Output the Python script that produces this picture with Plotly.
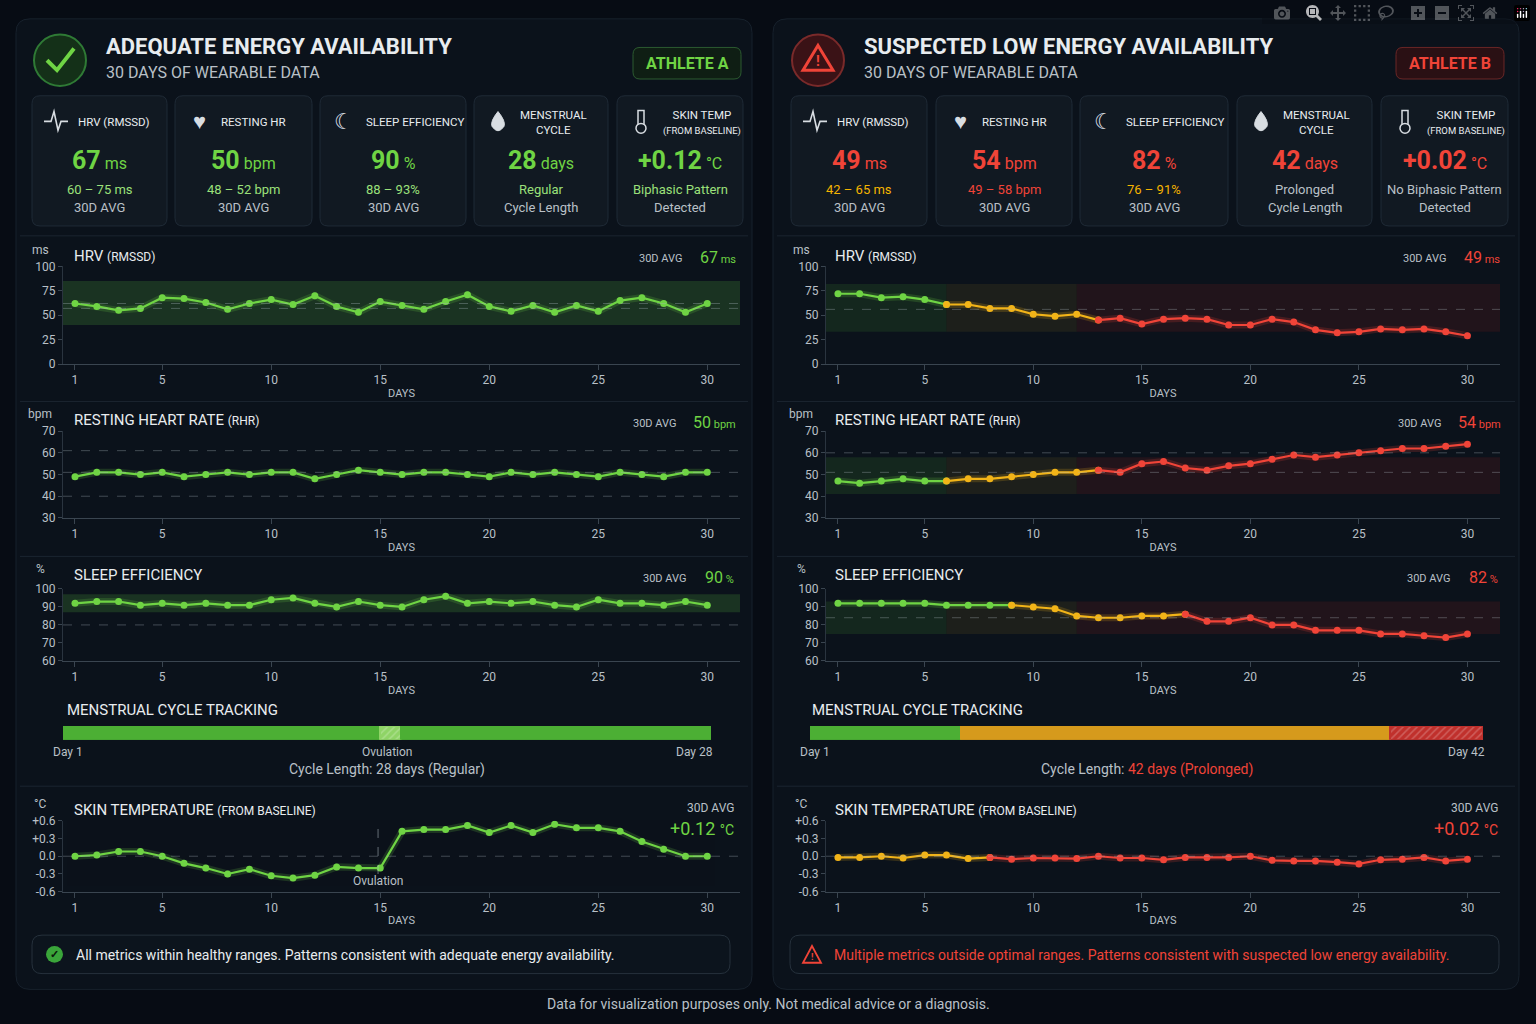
import plotly.graph_objects as go

W, H = 1536, 1024
FONT = "Roboto, 'Liberation Sans Narrow', sans-serif"

days = list(range(1, 31))
day_ticks = [1, 5, 10, 15, 20, 25, 30]

# athlete A (adequate)
a_hrv = [62, 59, 55, 57, 68, 67, 63, 56, 62, 66, 61, 70, 59, 53, 64, 60, 56, 64, 71, 59, 54, 60, 53, 60, 54, 65, 68, 62, 53, 62]
a_rhr = [49, 51, 51, 50, 51, 49, 50, 51, 50, 51, 51, 48, 50, 52, 51, 50, 51, 51, 50, 49, 51, 50, 51, 50, 49, 51, 50, 49, 51, 51]
a_sleep = [92, 93, 93, 91, 92, 91, 92, 91, 91, 94, 95, 92, 90, 93, 91, 90, 94, 96, 92, 93, 92, 93, 91, 90, 94, 92, 92, 91, 93, 91]
a_skin = [0.0, 0.02, 0.08, 0.08, 0.0, -0.12, -0.2, -0.3, -0.22, -0.33, -0.37, -0.32, -0.18, -0.2, -0.2,
          0.42, 0.45, 0.45, 0.52, 0.4, 0.52, 0.4, 0.54, 0.48, 0.48, 0.42, 0.25, 0.12, 0.0, 0.0]

# athlete B (suspected low EA)
b_hrv = [72, 72, 68, 69, 66, 61, 61, 57, 57, 51, 49, 51, 45, 47, 41, 46, 47, 46, 40, 40, 46, 43, 35, 32, 33, 36, 35, 36, 33, 29]
b_rhr = [47, 46, 47, 48, 47, 47, 48, 48, 49, 50, 51, 51, 52, 51, 55, 56, 53, 52, 54, 55, 57, 59, 58, 59, 60, 61, 62, 62, 63, 64]
b_sleep = [92, 92, 92, 92, 92, 91, 91, 91, 91, 90, 89, 85, 84, 84, 85, 85, 86, 82, 82, 84, 80, 80, 77, 77, 77, 75, 75, 74, 73, 75]
b_skin = [-0.02, -0.02, 0.0, -0.03, 0.02, 0.02, -0.04, -0.02, -0.05, -0.03, -0.03, -0.04, 0.0, -0.03, -0.03,
          -0.06, -0.02, -0.02, -0.02, 0.0, -0.07, -0.08, -0.08, -0.1, -0.13, -0.06, -0.05, -0.02, -0.08, -0.05]
# index where B series turns yellow / red
b_hrv_stages = [5, 12]
b_rhr_stages = [5, 12]
b_sleep_stages = [8, 16]
b_skin_stages = [0, 7]

# menstrual cycle segments (days)
a_cycle = [13.7, 0.9, 13.4]
b_cycle = [9.4, 26.8, 5.8]

GREEN = "#6fd444"
YELLOW = "#f2b418"
RED = "#f04438"
BG = "#070c14"
PANEL = "#0b121b"
CARD = "#111922"
BORDER = "#1f2a36"
TXT = "#e8ecef"
SUB = "#b9c0c7"


def px(x):
    return x / W


def py(y):
    return 1 - y / H


def rrect(x0, y0, x1, y1, r=8):
    return (f"M{px(x0 + r)},{py(y0)} L{px(x1 - r)},{py(y0)} Q{px(x1)},{py(y0)} {px(x1)},{py(y0 + r)} "
            f"L{px(x1)},{py(y1 - r)} Q{px(x1)},{py(y1)} {px(x1 - r)},{py(y1)} L{px(x0 + r)},{py(y1)} "
            f"Q{px(x0)},{py(y1)} {px(x0)},{py(y1 - r)} L{px(x0)},{py(y0 + r)} Q{px(x0)},{py(y0)} {px(x0 + r)},{py(y0)} Z")


fig = go.Figure()
shapes = []
ann = []


def box(x0, y0, x1, y1, fill=CARD, line=BORDER, r=8, width=1):
    shapes.append(dict(type="path", path=rrect(x0, y0, x1, y1, r), xref="paper", yref="paper",
                       fillcolor=fill, line=dict(color=line, width=width), layer="below"))


def text(x, y, s, size=14, color=TXT, anchor="left", yanchor="middle", bold=False):
    if bold:
        s = f"<b>{s}</b>"
    ann.append(dict(x=px(x), y=py(y), xref="paper", yref="paper", text=s, showarrow=False,
                    font=dict(family=FONT, size=size, color=color), xanchor=anchor, yanchor=yanchor))


# panels
box(16, 12, 752, 996, fill=PANEL, line="#17212c", r=14)
box(773, 12, 1519, 996, fill=PANEL, line="#17212c", r=14)

axis_id = [0]


def chart(x0, x1, y0, y1, yr, yt, ylab, series, colors, stages=None, band=None, band_cols=None,
          dashes=(), show_days=True):
    axis_id[0] += 1
    n = axis_id[0]
    xa = "x" if n == 1 else f"x{n}"
    ya = "y" if n == 1 else f"y{n}"
    lay_x = "xaxis" if n == 1 else f"xaxis{n}"
    lay_y = "yaxis" if n == 1 else f"yaxis{n}"
    fig.layout[lay_x] = dict(domain=[px(x0), px(x1)], anchor=ya, range=[0.45, 31.5], tickvals=day_ticks,
                             showgrid=False, zeroline=False, showline=True, linecolor="#3a4550",
                             ticks="outside", tickcolor="#3a4550", ticklen=5,
                             tickfont=dict(family=FONT, size=12, color=SUB),
                             title=dict(text="DAYS" if show_days else "", font=dict(family=FONT, size=11, color=SUB), standoff=2))
    fig.layout[lay_y] = dict(domain=[py(y1), py(y0)], anchor=xa, range=yr, tickvals=yt, ticktext=ylab,
                             showgrid=False, zeroline=False, showline=True, linecolor="#2a343f",
                             ticks="outside", tickcolor="#3a4550", ticklen=4,
                             tickfont=dict(family=FONT, size=12, color=SUB))
    if band is not None:
        if band_cols is None:
            shapes.append(dict(type="rect", xref=xa, yref=ya, x0=0.45, x1=31.5, y0=band[0], y1=band[1],
                               fillcolor="rgba(80,170,60,0.22)", line_width=0, layer="below"))
        else:
            for (bx0, bx1, c) in band_cols:
                shapes.append(dict(type="rect", xref=xa, yref=ya, x0=bx0, x1=bx1, y0=band[0], y1=band[1],
                                   fillcolor=c, line_width=0, layer="below"))
    for d in dashes:
        shapes.append(dict(type="line", xref=xa, yref=ya, x0=0.45, x1=31.5, y0=d, y1=d,
                           line=dict(color="rgba(170,180,190,0.35)", width=1, dash="dash")))
    if stages is None:
        segs = [(0, len(series) - 1, colors[0])]
    else:
        s1, s2 = stages
        segs = [(0, s1, colors[0]), (s1, s2, colors[1]), (s2, len(series) - 1, colors[2])]
    for (i0, i1, c) in segs:
        if i1 <= i0:
            continue
        xs = days[i0:i1 + 1]
        ys = series[i0:i1 + 1]
        fig.add_trace(go.Scatter(x=xs, y=ys, xaxis=xa, yaxis=ya, mode="lines",
                                 line=dict(color=c, width=7), opacity=0.18, hoverinfo="skip", showlegend=False))
        fig.add_trace(go.Scatter(x=xs, y=ys, xaxis=xa, yaxis=ya, mode="lines+markers",
                                 line=dict(color=c, width=2.2), marker=dict(size=7, color=c),
                                 showlegend=False))
    return xa, ya


def section(x0, x1, y0, unit, title, sub, avg_val, avg_unit, col, avg_below=False):
    text(x0 + 20, y0 + 8, unit, 12, SUB, "center")
    text(x0 + 52, y0 + 14, f"{title} <span style='font-size:12px'>{sub}</span>", 15, TXT)
    if avg_below:
        text(x1, y0 + 12, "30D AVG", 12, SUB, "right")
        text(x1, y0 + 33, f"{avg_val} <span style='font-size:14px'>{avg_unit}</span>", 18, col, "right")
    else:
        text(x1, y0 + 16, f"{avg_val}<span style='font-size:11px'> {avg_unit}</span>", 16, col, "right")
        text(x1 - 30 - 6 * len(str(avg_val)) - 6 * len(avg_unit), y0 + 17, "30D AVG", 11, SUB, "right")


def header(x0, x1, ok, title, athlete, col):
    if ok:
        shapes.append(dict(type="circle", xref="paper", yref="paper", x0=px(x0 + 2), x1=px(x0 + 54),
                           y0=py(80), y1=py(28), fillcolor="#143018", line=dict(color="#2f7a35", width=2)))
        shapes.append(dict(type="path", xref="paper", yref="paper",
                           path=f"M{px(x0 + 15)},{py(54)} L{px(x0 + 25)},{py(64)} L{px(x0 + 42)},{py(42)}",
                           line=dict(color=GREEN, width=4)))
    else:
        shapes.append(dict(type="circle", xref="paper", yref="paper", x0=px(x0 + 2), x1=px(x0 + 54),
                           y0=py(80), y1=py(28), fillcolor="#3a1216", line=dict(color="#7a2a2a", width=2)))
        shapes.append(dict(type="path", xref="paper", yref="paper",
                           path=f"M{px(x0 + 28)},{py(39)} L{px(x0 + 43)},{py(64)} L{px(x0 + 13)},{py(64)} Z",
                           line=dict(color=RED, width=3)))
        text(x0 + 28, 55, "!", 14, RED, "center", bold=True)
    text(x0 + 72, 40, title, 22, TXT, bold=True)
    text(x0 + 72, 66, "30 DAYS OF WEARABLE DATA", 16, SUB)
    box(x1 - 108, 41, x1, 73, fill="#0f1e14" if ok else "#2a1014", line="#2c5a30" if ok else "#6a2626", r=7)
    text(x1 - 54, 57, athlete, 16, col, "center", bold=True)


def cards(xs, vals, col, range_col):
    for (cx0, cx1), (lab, big, unit, l1, l2, icon) in zip(xs, vals):
        box(cx0, 90, cx1, 222)
        mid = (cx0 + cx1) / 2
        ix = cx0 + 24
        if icon == "pulse":
            shapes.append(dict(type="path", xref="paper", yref="paper",
                               path=f"M{px(ix - 12)},{py(116)} L{px(ix - 5)},{py(116)} L{px(ix - 2)},{py(106)} "
                                    f"L{px(ix + 2)},{py(125)} L{px(ix + 5)},{py(116)} L{px(ix + 12)},{py(116)}",
                               line=dict(color="#d8dde2", width=1.6)))
        elif icon == "therm":
            shapes.append(dict(type="rect", xref="paper", yref="paper", x0=px(ix - 3), x1=px(ix + 3),
                               y0=py(121), y1=py(105), line=dict(color="#d8dde2", width=1.5)))
            shapes.append(dict(type="circle", xref="paper", yref="paper", x0=px(ix - 5), x1=px(ix + 5),
                               y0=py(128), y1=py(118), fillcolor=CARD, line=dict(color="#d8dde2", width=1.5)))
        elif icon == "drop":
            shapes.append(dict(type="path", xref="paper", yref="paper",
                               path=f"M{px(ix)},{py(106)} Q{px(ix + 8)},{py(116)} {px(ix + 6)},{py(121)} "
                                    f"Q{px(ix)},{py(130)} {px(ix - 6)},{py(121)} Q{px(ix - 8)},{py(116)} {px(ix)},{py(106)} Z",
                               fillcolor="#d8dde2", line=dict(color="#d8dde2", width=1)))
        else:
            text(ix, 116, icon, 22, "#d8dde2", "center")
        text(cx0 + 44, 117, lab, 11.5, TXT)
        text(mid, 156, f"<b>{big}</b><span style='font-size:16px'> {unit}</span>", 25, col, "center")
        text(mid, 185, l1, 13, range_col, "center")
        text(mid, 203, l2, 13, SUB, "center")


def menstrual(x0, x1, y0, segs, cols, patterns, total, left, right, note):
    axis_id[0] += 1
    n = axis_id[0]
    xa, ya = f"x{n}", f"y{n}"
    fig.layout[f"xaxis{n}"] = dict(domain=[px(x0), px(x1)], anchor=ya, range=[0, total], visible=False)
    fig.layout[f"yaxis{n}"] = dict(domain=[py(y0 + 14), py(y0)], anchor=xa, range=[-0.5, 0.5], visible=False)
    for v, c, p in zip(segs, cols, patterns):
        fig.add_trace(go.Bar(x=[v], y=[0], orientation="h", xaxis=xa, yaxis=ya, width=1,
                             marker=dict(color=c, line=dict(color=c, width=1.5),
                                         pattern=dict(shape=p, fgcolor="rgba(255,255,255,0.45)" if p else None,
                                                      size=5, solidity=0.3)),
                             showlegend=False, hoverinfo="skip"))
    text(x0 - 12, y0 + 26, left, 12, SUB)
    text(x1 + 4, y0 + 26, right, 12, SUB, "right")
    text((x0 + x1) / 2, y0 + 44, note, 14, SUB, "center")


# ---------- left panel ----------
header(32, 741, True, "ADEQUATE ENERGY AVAILABILITY", "ATHLETE A", GREEN)
cards([(32, 167), (175, 312), (320, 466), (474, 608), (617, 743)],
      [("HRV (RMSSD)", "67", "ms", "60 – 75 ms", "30D AVG", "pulse"),
       ("RESTING HR", "50", "bpm", "48 – 52 bpm", "30D AVG", "♥"),
       ("SLEEP EFFICIENCY", "90", "%", "88 – 93%", "30D AVG", "☾"),
       ("MENSTRUAL<br>CYCLE", "28", "days", "Regular", "Cycle Length", "drop"),
       ("SKIN TEMP<br><span style='font-size:9.5px'>(FROM BASELINE)</span>", "+0.12", "°C",
        "Biphasic Pattern", "Detected", "therm")],
      GREEN, "#9be07a")

for (a, b) in [(232, 400), (400, 557), (557, 695), (790, 996)]:
    shapes.append(dict(type="line", xref="paper", yref="paper", x0=px(20), x1=px(748), y0=py(a), y1=py(a),
                       line=dict(color="#1b2530", width=1)))

chart(63, 740, 263, 362, [0, 100], [0, 25, 50, 75, 100], ["0", "25", "50", "75", "100"], a_hrv, [GREEN],
      band=[40, 85], dashes=[57, 62])
section(20, 738, 238, "ms", "HRV", "(RMSSD)", "67", "ms", GREEN)
chart(63, 740, 430, 518, [30, 70], [30, 40, 50, 60, 70], ["30", "40", "50", "60", "70"], a_rhr, [GREEN],
      dashes=[40, 51, 61])
section(20, 738, 405, "bpm", "RESTING HEART RATE", "(RHR)", "50", "bpm", GREEN)
chart(63, 740, 590, 663, [60, 100], [60, 70, 80, 90, 100], ["60", "70", "80", "90", "100"], a_sleep, [GREEN],
      band=[87, 97], dashes=[80])
section(20, 736, 562, "%", "SLEEP EFFICIENCY", "", "90", "%", GREEN)
xa, ya = chart(63, 740, 825, 897, [-0.6, 0.6], [-0.6, -0.3, 0, 0.3, 0.6],
               ["-0.6", "-0.3", "0.0", "+0.3", "+0.6"], a_skin, [GREEN], dashes=[0])
shapes.append(dict(type="line", xref=xa, yref=ya, x0=14.9, x1=14.9, y0=-0.3, y1=0.9,
                   line=dict(color="rgba(190,200,210,0.5)", width=1, dash="dash")))
ann.append(dict(x=14.9, y=-0.42, xref=xa, yref=ya, text="Ovulation", showarrow=False,
                font=dict(family=FONT, size=12, color=SUB)))
section(20, 736, 800, "°C", "SKIN TEMPERATURE", "(FROM BASELINE)", "+0.12", "°C", GREEN, avg_below=True)
menstrual(63, 711, 729, a_cycle, ["#4caf34", "#8fd466", "#4caf34"], ["", "/", ""], 28, "Day 1", "Day 28",
          "Cycle Length: 28 days (Regular)")
text(65, 713, "MENSTRUAL CYCLE TRACKING", 15, TXT)
text(387, 755, "Ovulation", 12, SUB, "center")
box(32, 941, 730, 980, fill="#0c141d", line="#26313c", r=10)
shapes.append(dict(type="circle", xref="paper", yref="paper", x0=px(46), x1=px(63), y0=py(969), y1=py(952),
                   fillcolor="#3aa53a", line_width=0))
text(54.5, 961, "✓", 11, "#0b1a0b", "center", bold=True)
text(74, 961, "All metrics within healthy ranges. Patterns consistent with adequate energy availability.", 14, TXT)

# ---------- right panel ----------
header(790, 1504, False, "SUSPECTED LOW ENERGY AVAILABILITY", "ATHLETE B", RED)
cards([(791, 927), (936, 1072), (1080, 1228), (1237, 1372), (1381, 1508)],
      [("HRV (RMSSD)", "49", "ms", "<span style='color:#f5b400'>42 – 65 ms</span>", "30D AVG", "pulse"),
       ("RESTING HR", "54", "bpm", "<span style='color:#f04438'>49 – 58 bpm</span>", "30D AVG", "♥"),
       ("SLEEP EFFICIENCY", "82", "%", "<span style='color:#f5b400'>76 – 91%</span>", "30D AVG", "☾"),
       ("MENSTRUAL<br>CYCLE", "42", "days", "Prolonged", "Cycle Length", "drop"),
       ("SKIN TEMP<br><span style='font-size:9.5px'>(FROM BASELINE)</span>", "+0.02", "°C",
        "No Biphasic Pattern", "Detected", "therm")],
      RED, SUB)

for (a, b) in [(232, 400), (400, 557), (557, 695), (790, 996)]:
    shapes.append(dict(type="line", xref="paper", yref="paper", x0=px(777), x1=px(1515), y0=py(a), y1=py(a),
                       line=dict(color="#1b2530", width=1)))

grad = [(0.45, 6, "rgba(70,150,50,0.16)"), (6, 12, "rgba(140,110,30,0.14)"), (12, 31.5, "rgba(150,30,30,0.16)")]
B3 = [GREEN, YELLOW, RED]
chart(826, 1500, 263, 362, [0, 100], [0, 25, 50, 75, 100], ["0", "25", "50", "75", "100"], b_hrv, B3,
      stages=b_hrv_stages, band=[33, 82], band_cols=grad, dashes=[56])
section(781, 1502, 238, "ms", "HRV", "(RMSSD)", "49", "ms", RED)
chart(826, 1500, 430, 518, [30, 70], [30, 40, 50, 60, 70], ["30", "40", "50", "60", "70"], b_rhr, B3,
      stages=b_rhr_stages, band=[41, 58], band_cols=grad, dashes=[51, 60])
section(781, 1503, 405, "bpm", "RESTING HEART RATE", "(RHR)", "54", "bpm", RED)
chart(826, 1500, 590, 663, [60, 100], [60, 70, 80, 90, 100], ["60", "70", "80", "90", "100"], b_sleep, B3,
      stages=b_sleep_stages, band=[75, 93], band_cols=grad, dashes=[84])
section(781, 1500, 562, "%", "SLEEP EFFICIENCY", "", "82", "%", RED)
chart(826, 1500, 825, 897, [-0.6, 0.6], [-0.6, -0.3, 0, 0.3, 0.6], ["-0.6", "-0.3", "0.0", "+0.3", "+0.6"],
      b_skin, [YELLOW, YELLOW, RED], stages=b_skin_stages, dashes=[0])
section(781, 1500, 800, "°C", "SKIN TEMPERATURE", "(FROM BASELINE)", "+0.02", "°C", RED, avg_below=True)
menstrual(810, 1483, 729, b_cycle, ["#4caf34", "#d69a1c", "#c0302c"], ["", "", "/"], 42, "Day 1", "Day 42",
          "Cycle Length: <span style='color:#f04438'>42 days (Prolonged)</span>")
text(810, 713, "MENSTRUAL CYCLE TRACKING", 15, TXT)
box(790, 941, 1499, 980, fill="#0c141d", line="#26313c", r=10)
shapes.append(dict(type="path", xref="paper", yref="paper",
                   path=f"M{px(812)},{py(952)} L{px(821)},{py(969)} L{px(803)},{py(969)} Z",
                   line=dict(color=RED, width=1.8)))
text(812, 963, "!", 9, RED, "center", bold=True)
text(832, 961, "Multiple metrics outside optimal ranges. Patterns consistent with suspected low energy availability.",
     14, RED)

text(W / 2, 1011, "Data for visualization purposes only. Not medical advice or a diagnosis.", 14, SUB, "center")

fig.update_layout(width=W, height=H, margin=dict(l=0, r=0, t=0, b=0), paper_bgcolor=BG, plot_bgcolor="rgba(0,0,0,0)",
                  barmode="stack", shapes=shapes, annotations=ann, font=dict(family=FONT, color=TXT))
fig.write_html("out.html", post_script="document.body.style.margin='0';document.body.style.background='#070c14';")
